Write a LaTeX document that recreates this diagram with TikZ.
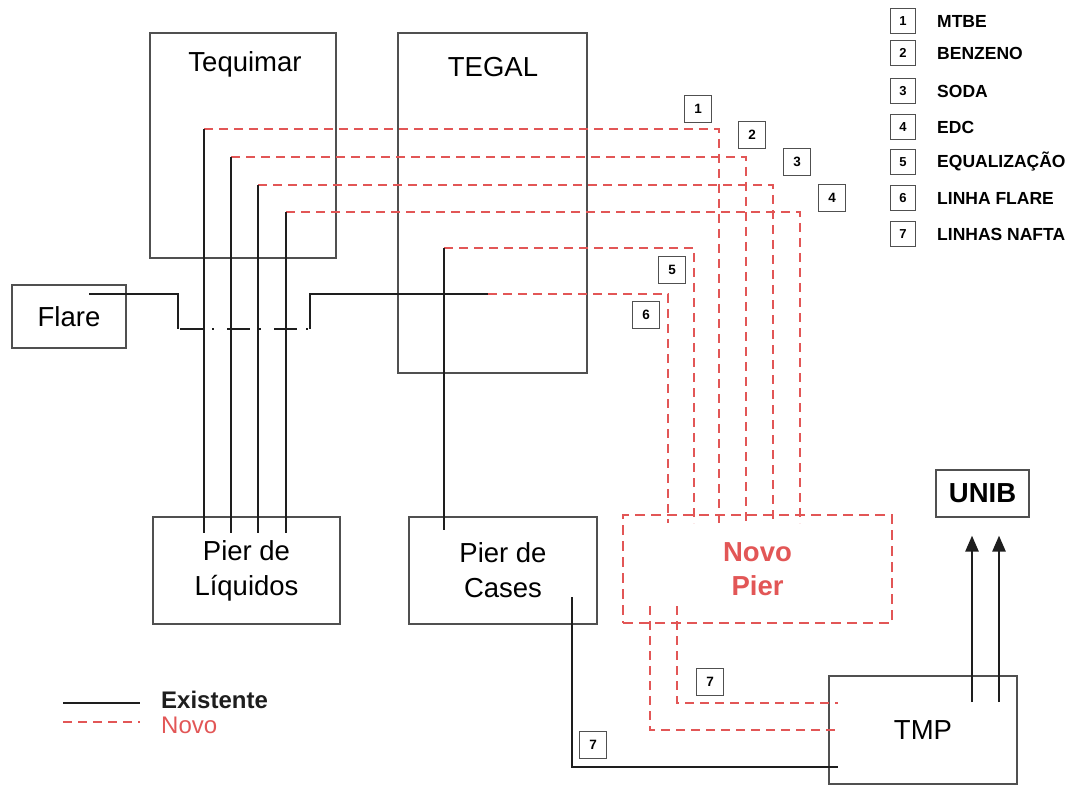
\documentclass[tikz,border=0pt]{standalone}
\usepackage{fontspec}
\setmainfont{Liberation Sans}
\usetikzlibrary{arrows.meta}
\definecolor{novored}{RGB}{226,86,86}
\definecolor{boxgray}{RGB}{80,80,80}
\definecolor{linegray}{RGB}{30,30,30}

\begin{document}
\begin{tikzpicture}[x=1pt, y=-1pt,
        main/.style = {draw=boxgray, line width=1.2pt, inner sep=0pt, align=center, font=\fontsize{27.5}{35}\selectfont},
        novobox/.style = {main, draw=novored, line width=2.4pt, dash pattern=on 10pt off 6pt, text=novored, font=\fontsize{27.5}{34}\selectfont\bfseries},
        title/.style = {anchor=base, font=\fontsize{27.5}{35}\selectfont},
        num/.style = {draw=boxgray, line width=1.1pt, minimum width=27pt, minimum height=27pt, inner sep=0pt, font=\fontsize{13.5}{13.5}\selectfont\bfseries},
        key/.style = {num, minimum width=25pt, minimum height=25pt, font=\fontsize{13}{13}\selectfont\bfseries},
        keytext/.style = {anchor=west, inner sep=0pt, font=\fontsize{17.5}{17.5}\selectfont\bfseries},
        exist/.style = {draw=linegray, line width=2.6pt},
        novo/.style = {draw=novored, line width=2.6pt, dash pattern=on 9pt off 6pt},
        flaredash/.style = {dash pattern=on 23pt off 9pt on 2pt off 13pt, dash phase=45pt}]
    \useasboundingbox (0,0) rectangle (1081,786);

    % plants and piers
    \node[main, minimum width=186pt, minimum height=225pt] (tequimar) at (243,145.5) {};
    \node[title] (tequimartxt) at (245,72) {Tequimar};
    \node[main, minimum width=189pt, minimum height=340pt] (tegal) at (492.5,203) {};
    \node[title] (tegaltxt) at (493,77) {TEGAL};
    \node[main, minimum width=114pt, minimum height=63pt] (flare) at (69,316.5) {Flare};
    \node[main, minimum width=187pt, minimum height=107pt] (liq) at (246.5,570.5) {Pier de\\Líquidos};
    \node[main, minimum width=188pt, minimum height=107pt] (cases) at (503,570.5) {Pier de\\Cases};
    \node[novobox, minimum width=269pt, minimum height=108pt] (novopier) at (757.5,569) {Novo\\Pier};
    \node[main, minimum width=93pt, minimum height=47pt, font=\fontsize{27.5}{35}\selectfont\bfseries] (unib) at (982.5,493.5) {UNIB};
    \node[main, minimum width=188pt, minimum height=108pt] (tmp) at (923,730) {TMP};

    % line corners
    \coordinate (t1) at (204,129);
    \coordinate (t2) at (231,157);
    \coordinate (t3) at (258,185);
    \coordinate (t4) at (286,212);
    \coordinate (t5) at (444,248);
    \coordinate (n1) at (719,523);
    \coordinate (n2) at (746,523);
    \coordinate (n3) at (773,523);
    \coordinate (n4) at (800,523);
    \coordinate (n5) at (694,523);
    \coordinate (n6) at (668,523);
    \coordinate (f0) at (89,294);
    \coordinate (f1) at (178,329);
    \coordinate (f2) at (310,329);
    \coordinate (f3) at (488,294);
    \coordinate (c7) at (572,597);
    \coordinate (m7) at (838,767);
    \coordinate (p1) at (650,606);
    \coordinate (p2) at (677,606);
    \coordinate (m1) at (838,730);
    \coordinate (m2) at (838,703);
    \coordinate (a1) at (972,702);
    \coordinate (a2) at (999,702);

    % new lines
    \draw[novo] (t1) -| (n1);
    \draw[novo] (t2) -| (n2);
    \draw[novo] (t3) -| (n3);
    \draw[novo] (t4) -| (n4);
    \draw[novo] (t5) -| (n5);
    \draw[novo] (f3) -| (n6);
    \draw[novo] (p1) |- (m1);
    \draw[novo] (p2) |- (m2);

    % existing lines
    \draw[exist] (t1) -- (t1 |- 0,533);
    \draw[exist] (t2) -- (t2 |- 0,533);
    \draw[exist] (t3) -- (t3 |- 0,533);
    \draw[exist] (t4) -- (t4 |- 0,533);
    \draw[exist] (t5) -- (t5 |- 0,530);
    \draw[exist] (f0) -| (f1);
    \draw[exist, flaredash] (f1) -- (f2);
    \draw[exist] (f2) |- (f3);
    \draw[exist] (c7) |- (m7);
    \draw[exist, -{Triangle[length=16pt, width=13pt]}] (a1) -- ([yshift=-18pt]a1 |- unib.south);
    \draw[exist, -{Triangle[length=16pt, width=13pt]}] (a2) -- ([yshift=-18pt]a2 |- unib.south);

    % line numbers
    \node[num] (l1) at (698,109) {1};
    \node[num] (l2) at (752,135) {2};
    \node[num] (l3) at (797,162) {3};
    \node[num] (l4) at (832,198) {4};
    \node[num] (l5) at (672,270) {5};
    \node[num] (l6) at (646,315) {6};
    \node[num] (l7a) at (710,682) {7};
    \node[num] (l7b) at (593,745) {7};

    % key
    \node[key] (k1) at (903,21) {1};
    \node[key] (k2) at (903,53) {2};
    \node[key] (k3) at (903,91) {3};
    \node[key] (k4) at (903,127) {4};
    \node[key] (k5) at (903,162) {5};
    \node[key] (k6) at (903,198) {6};
    \node[key] (k7) at (903,234) {7};
    \node[keytext] at (937,21) {MTBE};
    \node[keytext] at (937,53) {BENZENO};
    \node[keytext] at (937,91) {SODA};
    \node[keytext] at (937,127) {EDC};
    \node[keytext] at (937,162) {EQUALIZAÇÃO};
    \node[keytext] at (937,198) {LINHA FLARE};
    \node[keytext] at (937,234) {LINHAS NAFTA};

    % legend
    \coordinate (e0) at (63,703);
    \coordinate (e1) at (140,703);
    \coordinate (v0) at (63,722);
    \coordinate (v1) at (140,722);
    \draw[exist] (e0) -- (e1);
    \draw[novo] (v0) -- (v1);
    \node[anchor=west, inner sep=0pt, font=\fontsize{24}{24}\selectfont\bfseries, text=linegray] (existente) at (161,700) {Existente};
    \node[anchor=west, inner sep=0pt, font=\fontsize{24}{24}\selectfont, text=novored] (novo) at (161,725) {Novo};
\end{tikzpicture}
\end{document}
